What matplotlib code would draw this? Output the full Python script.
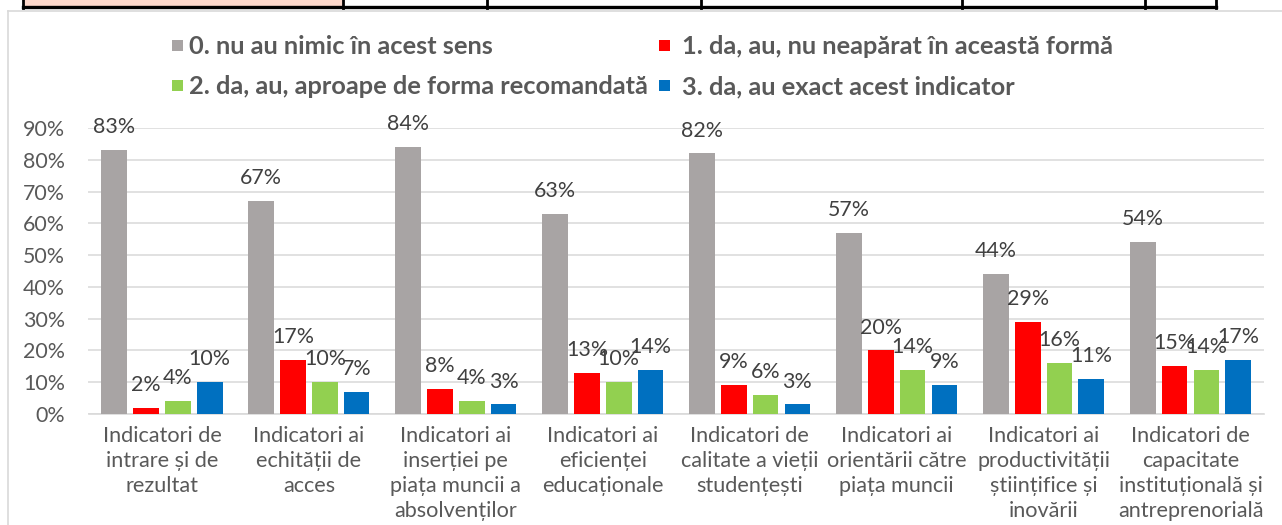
import matplotlib
matplotlib.use("Agg")
import matplotlib.pyplot as plt
from matplotlib.patches import Rectangle
from matplotlib.lines import Line2D
from matplotlib.textpath import TextPath
from matplotlib.font_manager import FontProperties
import numpy as np

# ---------------- data ----------------
categories = [
    "Indicatori de\nintrare și de\nrezultat",
    "Indicatori ai\nechității de\nacces",
    "Indicatori ai\ninserției pe\npiața muncii a\nabsolvenților",
    "Indicatori ai\neficienței\neducaționale",
    "Indicatori de\ncalitate a vieții\nstudențești",
    "Indicatori ai\norientării către\npiața muncii",
    "Indicatori ai\nproductivității\nștiințifice și\ninovării",
    "Indicatori de\ncapacitate\ninstituțională și\nantreprenorială",
]
series_names = [
    "0. nu au nimic în acest sens",
    "1. da, au, nu neapărat în această formă",
    "2. da, au, aproape de forma recomandată",
    "3. da, au exact acest indicator",
]
gray_vals = [83, 67, 84, 63, 82, 57, 44, 54]
red_vals = [2, 17, 8, 13, 9, 20, 29, 15]
green_vals = [4, 10, 4, 10, 6, 14, 16, 14]
blue_vals = [10, 7, 3, 14, 3, 9, 11, 17]
ytick_vals = [0, 10, 20, 30, 40, 50, 60, 70, 80, 90]
ytick_labels = ["0%", "10%", "20%", "30%", "40%", "50%", "60%", "70%", "80%", "90%"]

colors = ["#A8A4A4", "#FF0000", "#92D050", "#0070C0"]
TXT = "#595959"
FONT = "Lato"

W, H = 1282, 525
DPI = 100
fig = plt.figure(figsize=(W / DPI, H / DPI), dpi=DPI)
fig.patch.set_facecolor("white")

def fx(px):
    return px / W

def fy(py):
    return 1 - py / H

def fit_size(text, target_px, weight="normal"):
    fp = FontProperties(family=FONT, weight=weight, size=10)
    w = TextPath((0, 0), text, prop=fp).get_extents().width  # in points at size 10
    w_px = w * DPI / 72.0
    return 10 * target_px / w_px

# ---------------- table strip at top (cropped table) ----------------
fig.patches.append(Rectangle((fx(23), fy(8)), fx(343) - fx(23), fy(0) - fy(8),
                             transform=fig.transFigure, facecolor="#FDD8CB",
                             edgecolor="none", zorder=1))
fig.lines.append(Line2D([fx(23), fx(1216)], [fy(7), fy(7)], transform=fig.transFigure,
                        color="black", lw=2.4, zorder=2))
for xv in [23, 343, 487, 701, 962, 1145, 1216]:
    fig.lines.append(Line2D([fx(xv), fx(xv)], [fy(0), fy(8)], transform=fig.transFigure,
                            color="black", lw=2.0, zorder=2))

# chart frame (light gray)
fig.lines.append(Line2D([fx(8), fx(8)], [fy(11), fy(530)], transform=fig.transFigure,
                        color="#D9D9D9", lw=1.2, zorder=2))
fig.lines.append(Line2D([fx(8), fx(1290)], [fy(11), fy(11)], transform=fig.transFigure,
                        color="#D9D9D9", lw=1.2, zorder=2))

# ---------------- axes ----------------
left_px, right_px, bot_px, top_px = 88.5, 1264, 414, 128
ax = fig.add_axes([fx(left_px), fy(bot_px), fx(right_px) - fx(left_px), fy(top_px) - fy(bot_px)])
ax.set_facecolor("none")

n = len(categories)
x = np.arange(n)
series = [gray_vals, red_vals, green_vals, blue_vals]
bw = 0.175
stride = 0.2165
offsets = [(-1.5 + i) * stride for i in range(4)]

val_size = fit_size("83%", 40)
for vals, off, col in zip(series, offsets, colors):
    bars = ax.bar(x + off, vals, width=bw, color=col, zorder=3, linewidth=0)
    for xi, v in zip(x + off, vals):
        ax.annotate(f"{v}%", (xi, v), xytext=(0, 16.5), textcoords="offset points",
                    ha="center", va="center", fontsize=val_size, color="#404040",
                    family=FONT, zorder=5, annotation_clip=False)

ax.set_xlim(-0.5, n - 0.5)
ax.set_ylim(0, 90)
ax.set_yticks(ytick_vals)
ax.set_yticklabels(ytick_labels, family=FONT, fontsize=val_size, color=TXT)
ax.yaxis.grid(True, color="#D9D9D9", lw=1.1, zorder=0)
ax.set_axisbelow(True)
ax.tick_params(axis="y", length=0, pad=17)
ax.tick_params(axis="x", length=0, pad=9)

xl_size = fit_size("Indicatori de", 116)
ax.set_xticks(x)
ax.set_xticklabels(categories, family=FONT, fontsize=xl_size, color=TXT, linespacing=1.3)

for s in ["top", "right", "left"]:
    ax.spines[s].set_visible(False)
ax.spines["bottom"].set_color("#D9D9D9")
ax.spines["bottom"].set_linewidth(1.2)

# ---------------- legend (manual, row-wise as in the reference) ----------------
leg_size = np.mean([
    fit_size(series_names[0], 301, "bold"),
    fit_size(series_names[1], 431, "bold"),
    fit_size(series_names[2], 458, "bold"),
    fit_size(series_names[3], 329, "bold"),
])
leg_pos = [(172, 189, 45), (659, 682, 45), (172, 189, 85), (659, 682, 85)]
for (sx, tx, cy), name, col in zip(leg_pos, series_names, colors):
    sq = 11
    fig.patches.append(Rectangle((fx(sx), fy(cy + sq / 2)), fx(sq), sq / H,
                                 transform=fig.transFigure, facecolor=col,
                                 edgecolor="none", zorder=3))
    fig.text(fx(tx), fy(cy), name, ha="left", va="center_baseline", fontsize=leg_size,
             fontweight="bold", color=TXT, family=FONT)

fig.savefig("out.png", dpi=DPI, facecolor="white")
